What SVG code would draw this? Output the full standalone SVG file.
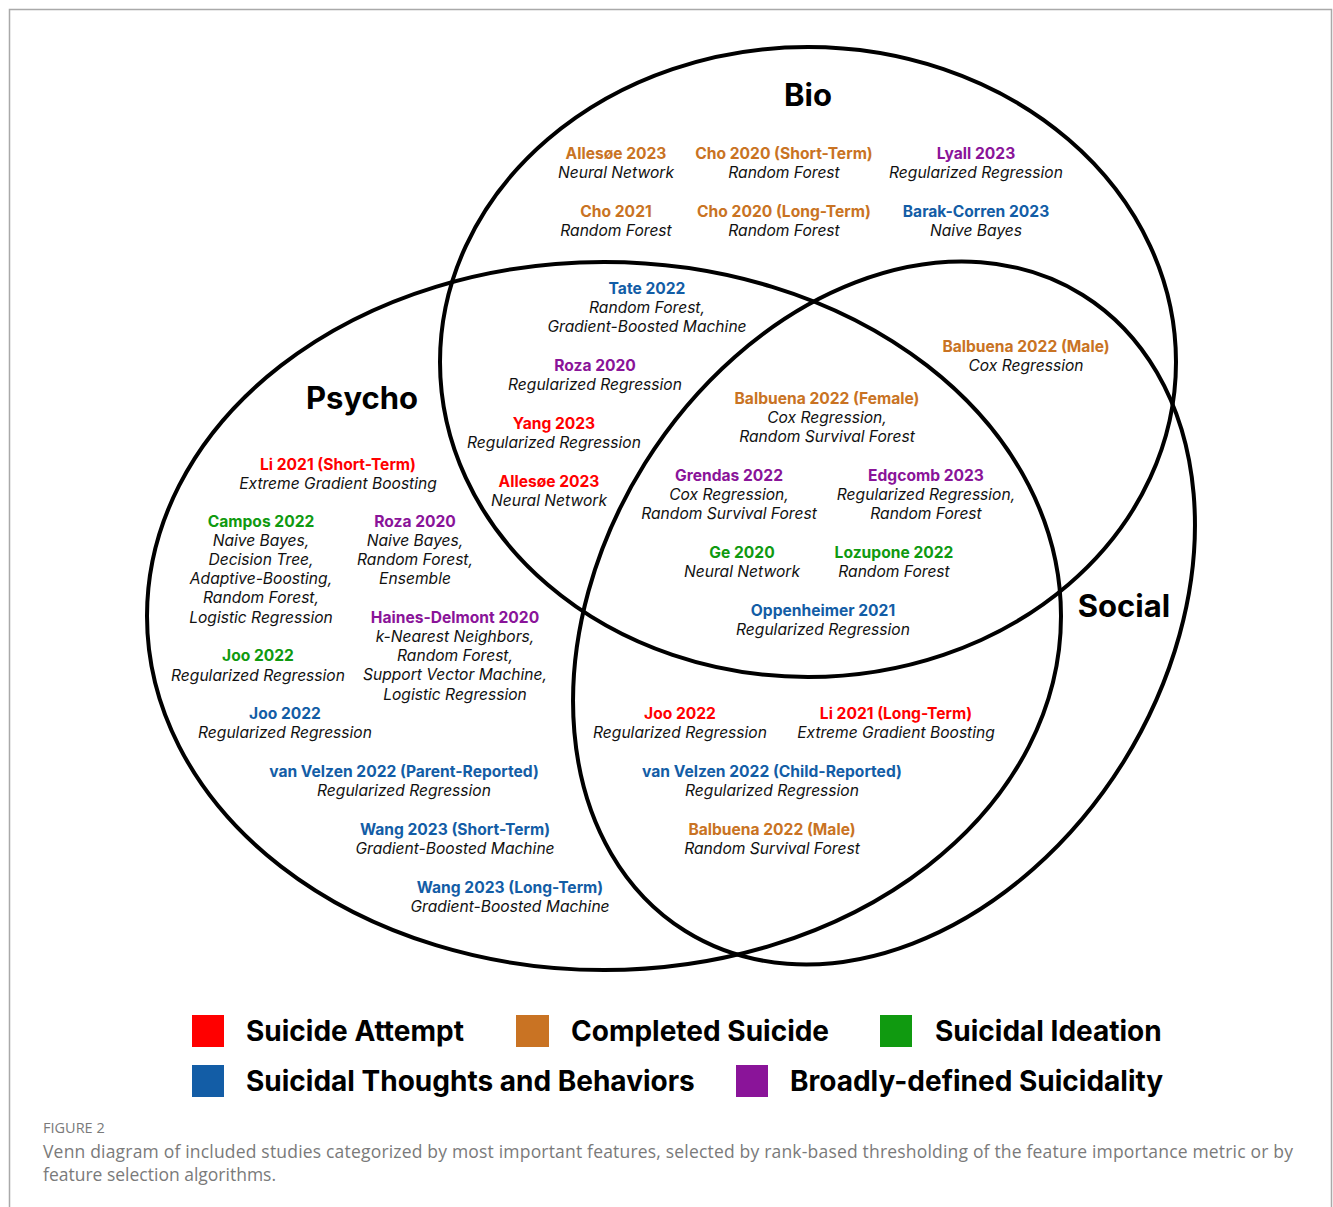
<svg xmlns="http://www.w3.org/2000/svg" width="1333" height="1207" viewBox="0 0 1333 1207">
  <style>
    .frame { fill: none; stroke: #a9a9a9; stroke-width: 1.5; }
    .set { fill: none; stroke: #000; stroke-width: 4; }
    text { font-family: Inter, "Noto Sans", "Liberation Sans", sans-serif; text-anchor: middle; }
    .title { font-size: 31px; font-weight: 700; fill: #000; }
    .n { font-size: 15.6px; font-weight: 700; }
    .m { font-size: 15.6px; font-style: italic; fill: #111; }
    .sa { fill: #ff0000; }
    .cs { fill: #c97323; }
    .si { fill: #109a10; }
    .stb { fill: #135da6; }
    .bs { fill: #8a1499; }
    .leg { font-size: 28px; font-weight: 700; fill: #000; text-anchor: start; }
    .cap { font-family: "Open Sans", "Liberation Sans", sans-serif; fill: #7a7a7a; text-anchor: start; }
  </style>

  <!-- page frame -->
  <path class="frame" d="M9.5,1207 V9.5 H1331.5 V1207"/>

  <!-- the three sets -->
  <g id="sets">
    <ellipse id="set-bio" class="set" cx="808" cy="362" rx="368" ry="315"/>
    <ellipse id="set-psycho" class="set" cx="604" cy="616" rx="457" ry="354"/>
    <ellipse id="set-social" class="set" cx="884" cy="613" rx="282" ry="375" transform="rotate(32 884 613)"/>
  </g>

  <!-- set titles -->
  <g id="titles">
    <text class="title" x="808" y="106">Bio</text>
    <text class="title" x="362" y="409">Psycho</text>
    <text class="title" x="1124" y="617">Social</text>
  </g>

  <!-- no connectors in this figure -->
  <g id="connectors"/>

  <!-- Bio only -->
  <g id="bio-allesoe-2023">
    <text class="n cs" x="616" y="159">Allesøe 2023</text>
    <text class="m" x="616" y="178">Neural Network</text>
  </g>
  <g id="bio-cho-2020-short">
    <text class="n cs" x="784" y="159">Cho 2020 (Short-Term)</text>
    <text class="m" x="784" y="178">Random Forest</text>
  </g>
  <g id="bio-lyall-2023">
    <text class="n bs" x="976" y="159">Lyall 2023</text>
    <text class="m" x="976" y="178">Regularized Regression</text>
  </g>
  <g id="bio-cho-2021">
    <text class="n cs" x="616" y="217">Cho 2021</text>
    <text class="m" x="616" y="236">Random Forest</text>
  </g>
  <g id="bio-cho-2020-long">
    <text class="n cs" x="784" y="217">Cho 2020 (Long-Term)</text>
    <text class="m" x="784" y="236">Random Forest</text>
  </g>
  <g id="bio-barak-corren-2023">
    <text class="n stb" x="976" y="217">Barak-Corren 2023</text>
    <text class="m" x="976" y="236">Naive Bayes</text>
  </g>

  <!-- Bio and Psycho -->
  <g id="bp-tate-2022">
    <text class="n stb" x="647" y="294">Tate 2022</text>
    <text class="m" x="647" y="313">Random Forest,</text>
    <text class="m" x="647" y="332">Gradient-Boosted Machine</text>
  </g>
  <g id="bp-roza-2020">
    <text class="n bs" x="595" y="371">Roza 2020</text>
    <text class="m" x="595" y="390">Regularized Regression</text>
  </g>
  <g id="bp-yang-2023">
    <text class="n sa" x="554" y="429">Yang 2023</text>
    <text class="m" x="554" y="448">Regularized Regression</text>
  </g>
  <g id="bp-allesoe-2023">
    <text class="n sa" x="549" y="487">Allesøe 2023</text>
    <text class="m" x="549" y="506">Neural Network</text>
  </g>

  <!-- Bio and Social -->
  <g id="bs-balbuena-2022-male">
    <text class="n cs" x="1026" y="352">Balbuena 2022 (Male)</text>
    <text class="m" x="1026" y="371">Cox Regression</text>
  </g>

  <!-- All three -->
  <g id="all-balbuena-2022-female">
    <text class="n cs" x="827" y="404">Balbuena 2022 (Female)</text>
    <text class="m" x="827" y="423">Cox Regression,</text>
    <text class="m" x="827" y="442">Random Survival Forest</text>
  </g>
  <g id="all-grendas-2022">
    <text class="n bs" x="729" y="481">Grendas 2022</text>
    <text class="m" x="729" y="500">Cox Regression,</text>
    <text class="m" x="729" y="519">Random Survival Forest</text>
  </g>
  <g id="all-edgcomb-2023">
    <text class="n bs" x="926" y="481">Edgcomb 2023</text>
    <text class="m" x="926" y="500">Regularized Regression,</text>
    <text class="m" x="926" y="519">Random Forest</text>
  </g>
  <g id="all-ge-2020">
    <text class="n si" x="742" y="558">Ge 2020</text>
    <text class="m" x="742" y="577">Neural Network</text>
  </g>
  <g id="all-lozupone-2022">
    <text class="n si" x="894" y="558">Lozupone 2022</text>
    <text class="m" x="894" y="577">Random Forest</text>
  </g>
  <g id="all-oppenheimer-2021">
    <text class="n stb" x="823" y="616">Oppenheimer 2021</text>
    <text class="m" x="823" y="635">Regularized Regression</text>
  </g>

  <!-- Psycho only -->
  <g id="psy-li-2021-short">
    <text class="n sa" x="338" y="470">Li 2021 (Short-Term)</text>
    <text class="m" x="338" y="489">Extreme Gradient Boosting</text>
  </g>
  <g id="psy-campos-2022">
    <text class="n si" x="261" y="527">Campos 2022</text>
    <text class="m" x="261" y="546">Naive Bayes,</text>
    <text class="m" x="261" y="565">Decision Tree,</text>
    <text class="m" x="261" y="584">Adaptive-Boosting,</text>
    <text class="m" x="261" y="603">Random Forest,</text>
    <text class="m" x="261" y="623">Logistic Regression</text>
  </g>
  <g id="psy-roza-2020">
    <text class="n bs" x="415" y="527">Roza 2020</text>
    <text class="m" x="415" y="546">Naive Bayes,</text>
    <text class="m" x="415" y="565">Random Forest,</text>
    <text class="m" x="415" y="584">Ensemble</text>
  </g>
  <g id="psy-haines-delmont-2020">
    <text class="n bs" x="455" y="623">Haines-Delmont 2020</text>
    <text class="m" x="455" y="642">k-Nearest Neighbors,</text>
    <text class="m" x="455" y="661">Random Forest,</text>
    <text class="m" x="455" y="680">Support Vector Machine,</text>
    <text class="m" x="455" y="700">Logistic Regression</text>
  </g>
  <g id="psy-joo-2022-si">
    <text class="n si" x="258" y="661">Joo 2022</text>
    <text class="m" x="258" y="681">Regularized Regression</text>
  </g>
  <g id="psy-joo-2022-stb">
    <text class="n stb" x="285" y="719">Joo 2022</text>
    <text class="m" x="285" y="738">Regularized Regression</text>
  </g>
  <g id="psy-van-velzen-2022-parent">
    <text class="n stb" x="404" y="777">van Velzen 2022 (Parent-Reported)</text>
    <text class="m" x="404" y="796">Regularized Regression</text>
  </g>
  <g id="psy-wang-2023-short">
    <text class="n stb" x="455" y="835">Wang 2023 (Short-Term)</text>
    <text class="m" x="455" y="854">Gradient-Boosted Machine</text>
  </g>
  <g id="psy-wang-2023-long">
    <text class="n stb" x="510" y="893">Wang 2023 (Long-Term)</text>
    <text class="m" x="510" y="912">Gradient-Boosted Machine</text>
  </g>

  <!-- Psycho and Social -->
  <g id="ps-joo-2022">
    <text class="n sa" x="680" y="719">Joo 2022</text>
    <text class="m" x="680" y="738">Regularized Regression</text>
  </g>
  <g id="ps-li-2021-long">
    <text class="n sa" x="896" y="719">Li 2021 (Long-Term)</text>
    <text class="m" x="896" y="738">Extreme Gradient Boosting</text>
  </g>
  <g id="ps-van-velzen-2022-child">
    <text class="n stb" x="772" y="777">van Velzen 2022 (Child-Reported)</text>
    <text class="m" x="772" y="796">Regularized Regression</text>
  </g>
  <g id="ps-balbuena-2022-male">
    <text class="n cs" x="772" y="835">Balbuena 2022 (Male)</text>
    <text class="m" x="772" y="854">Random Survival Forest</text>
  </g>

  <!-- legend -->
  <g id="legend">
    <rect class="sa" x="192" y="1015" width="32" height="32"/>
    <text class="leg" x="246" y="1041">Suicide Attempt</text>
    <rect class="cs" x="516" y="1015" width="33" height="32"/>
    <text class="leg" x="571" y="1041">Completed Suicide</text>
    <rect class="si" x="880" y="1015" width="32" height="32"/>
    <text class="leg" x="935" y="1041">Suicidal Ideation</text>
    <rect class="stb" x="192" y="1065" width="32" height="32"/>
    <text class="leg" x="246" y="1091">Suicidal Thoughts and Behaviors</text>
    <rect class="bs" x="736" y="1065" width="32" height="32"/>
    <text class="leg" x="790" y="1091">Broadly-defined Suicidality</text>
  </g>

  <!-- caption -->
  <g id="caption">
    <text class="cap" x="43" y="1133" font-size="14.5" fill="#888">FIGURE 2</text>
    <text class="cap" x="43" y="1158" font-size="17.5" textLength="1250" lengthAdjust="spacing">Venn diagram of included studies categorized by most important features, selected by rank-based thresholding of the feature importance metric or by</text>
    <text class="cap" x="43" y="1181" font-size="17.5">feature selection algorithms.</text>
  </g>
</svg>
